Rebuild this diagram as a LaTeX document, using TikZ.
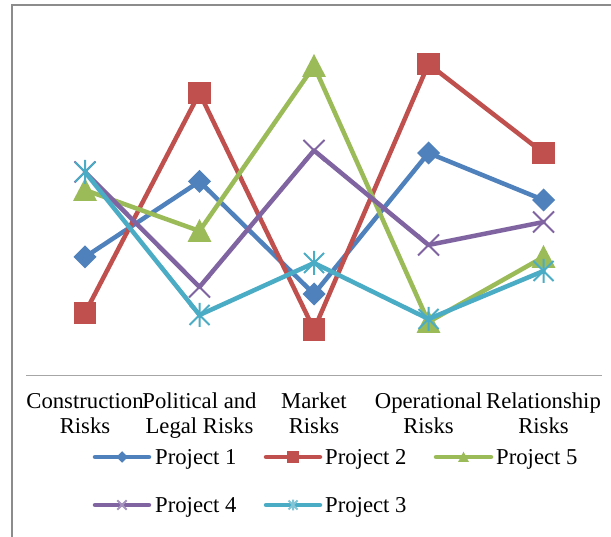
\documentclass[tikz,border=0pt]{standalone}
\usepackage{fontspec}
\setmainfont{Liberation Serif}
\usetikzlibrary{calc}
\definecolor{cblue}{HTML}{4F81BD}
\definecolor{cred}{HTML}{C0504D}
\definecolor{cgreen}{HTML}{9BBB59}
\definecolor{cpurple}{HTML}{8064A2}
\definecolor{ccyan}{HTML}{4BACC6}
\definecolor{cframe}{HTML}{8C8C8C}
\definecolor{caxis}{HTML}{A6A6A6}
\tikzset{
  dmd/.pic={\fill (0,-11.5)--(11.5,0)--(0,11.5)--(-11.5,0)--cycle;},
  sqr/.pic={\fill (-11.3,-11.3) rectangle (11.3,11.3);},
  tri/.pic={\fill (0,-12)--(12,11)--(-12,11)--cycle;},
  xmk/.pic={\draw[line width=2pt] (-10.5,-10.5)--(10.5,10.5) (-10.5,10.5)--(10.5,-10.5);},
  stm/.pic={\draw[line width=2pt] (-10,-10)--(10,10) (-10,10)--(10,-10) (0,-12)--(0,12);},
  series/.style={line width=4.5pt, line join=round, line cap=round},
  legline/.style={line width=4.5pt, line cap=round},
  cat/.style={anchor=base, inner sep=0pt, font=\fontsize{22.7}{25}\selectfont},
  leg/.style={anchor=base west, inner sep=0pt, font=\fontsize{22.7}{25}\selectfont},
}
\begin{document}
\begin{tikzpicture}[x=1pt,y=-1pt]
\useasboundingbox (0,0) rectangle (611,537);
\fill[white] (0,0) rectangle (611,537);
% frame
\draw[cframe, line width=2pt] (12,537) -- (12,5.5) -- (611,5.5);
% axis
\draw[caxis, line width=1.5pt] (26,375.5) -- (602,375.5);
% Project 1
\coordinate (p1a) at (85,257);
\coordinate (p1b) at (199.5,181.5);
\coordinate (p1c) at (314,294);
\coordinate (p1d) at (428.5,153);
\coordinate (p1e) at (543.5,200);
% Project 2
\coordinate (p2a) at (85,313);
\coordinate (p2b) at (199.5,93);
\coordinate (p2c) at (314,329.5);
\coordinate (p2d) at (428.5,64);
\coordinate (p2e) at (543.5,153);
% Project 5
\coordinate (p5a) at (85,190);
\coordinate (p5b) at (199.5,231);
\coordinate (p5c) at (314,66);
\coordinate (p5d) at (428.5,322);
\coordinate (p5e) at (543.5,257);
% Project 4
\coordinate (p4a) at (85,172);
\coordinate (p4b) at (199.5,287);
\coordinate (p4c) at (314,150.5);
\coordinate (p4d) at (428.5,245);
\coordinate (p4e) at (543.5,222);
% Project 3
\coordinate (p3a) at (85,172);
\coordinate (p3b) at (199.5,315);
\coordinate (p3c) at (314,263);
\coordinate (p3d) at (428.5,319);
\coordinate (p3e) at (543.5,271);
% series
\draw[series, cblue] (p1a)--(p1b)--(p1c)--(p1d)--(p1e);
\foreach \k in {a,b,c,d,e}{\pic[cblue] at (p1\k) {dmd};}
\draw[series, cred] (p2a)--(p2b)--(p2c)--(p2d)--(p2e);
\foreach \k in {a,b,c,d,e}{\pic[cred] at (p2\k) {sqr};}
\draw[series, cgreen] (p5a)--(p5b)--(p5c)--(p5d)--(p5e);
\foreach \k in {a,b,c,d,e}{\pic[cgreen] at (p5\k) {tri};}
\draw[series, cpurple] (p4a)--(p4b)--(p4c)--(p4d)--(p4e);
\foreach \k in {a,b,c,d,e}{\pic[cpurple] at (p4\k) {xmk};}
\draw[series, ccyan] (p3a)--(p3b)--(p3c)--(p3d)--(p3e);
\foreach \k in {a,b,c,d,e}{\pic[ccyan] at (p3\k) {stm};}
% category labels
\node[cat] (ca1) at (85,409) {Construction};
\node[cat] (ca2) at (85,434) {Risks};
\node[cat] (cb1) at (199.5,409) {Political and};
\node[cat] (cb2) at (199.5,434) {Legal Risks};
\node[cat] (cc1) at (314,409) {Market};
\node[cat] (cc2) at (314,434) {Risks};
\node[cat] (cd1) at (428.5,409) {Operational};
\node[cat] (cd2) at (428.5,434) {Risks};
\node[cat] (ce1) at (543.5,409) {Relationship};
\node[cat] (ce2) at (543.5,434) {Risks};
% legend
\coordinate (l1s) at (95,457); \coordinate (l1e) at (149,457);
\coordinate (l2s) at (266,457); \coordinate (l2e) at (320,457);
\coordinate (l5s) at (436,457); \coordinate (l5e) at (491,457);
\coordinate (l4s) at (95,505); \coordinate (l4e) at (149,505);
\coordinate (l3s) at (266,505); \coordinate (l3e) at (320,505);
\draw[legline, cblue] (l1s) -- (l1e);
\pic[cblue, scale=0.5] at ($(l1s)!0.5!(l1e)$) {dmd};
\draw[legline, cred] (l2s) -- (l2e);
\pic[cred, scale=0.5] at ($(l2s)!0.5!(l2e)$) {sqr};
\draw[legline, cgreen] (l5s) -- (l5e);
\pic[cgreen, scale=0.45] at ($(l5s)!0.5!(l5e)$) {tri};
\draw[legline, cpurple] (l4s) -- (l4e);
\pic[cpurple!70, scale=0.45] at ($(l4s)!0.5!(l4e)$) {xmk};
\draw[legline, ccyan] (l3s) -- (l3e);
\pic[ccyan!70, scale=0.45] at ($(l3s)!0.5!(l3e)$) {stm};
\node[leg] (t1) at (155,464.5) {Project 1};
\node[leg] (t2) at (325,464.5) {Project 2};
\node[leg] (t5) at (496,464.5) {Project 5};
\node[leg] (t4) at (155,512) {Project 4};
\node[leg] (t3) at (325,512) {Project 3};
\end{tikzpicture}
\end{document}
